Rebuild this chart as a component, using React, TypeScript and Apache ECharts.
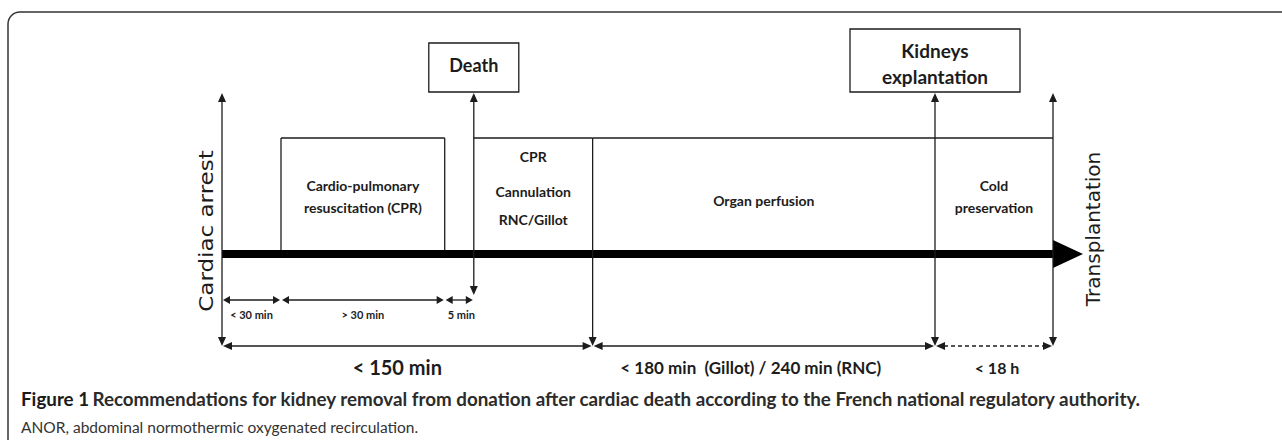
import React, { useEffect, useRef } from "react";
import * as echarts from "echarts";

// ---- data -------------------------------------------------------------
const milestoneNames = [
  "Cardiac arrest",
  "CPR start",
  "CPR end",
  "Death",
  "Cannulation end",
  "Kidneys explantation",
  "Transplantation",
];
// schematic position of each milestone on the (not to scale) timeline, 0..100
const milestoneT = [0, 7.1, 26.8, 30.3, 44.6, 85.8, 100];

const phaseLabels = [
  ["Cardio-pulmonary", "resuscitation (CPR)"],
  ["CPR", "Cannulation", "RNC/Gillot"],
  ["Organ perfusion"],
  ["Cold", "preservation"],
];
const phaseFrom = [1, 3, 4, 5];
const phaseTo = [2, 4, 5, 6];

const shortLabels = ["< 30 min", "> 30 min", "5 min"];
const shortFrom = [0, 1, 2];
const shortTo = [1, 2, 3];

const longLabels = ["< 150 min", "< 180 min  (Gillot) / 240 min (RNC)", "< 18 h"];
const longFrom = [0, 4, 5];
const longTo = [4, 5, 6];
const longDashed = [false, false, true];

const eventBoxLabels: Record<number, string[]> = {
  3: ["Death"],
  5: ["Kidneys", "explantation"],
};

const captionTitle = "Figure 1";
const captionText =
  "Recommendations for kidney removal from donation after cardiac death according to the French national regulatory authority.";
const captionNote = "ANOR, abdominal normothermic oxygenated recirculation.";

// ---- layout / style ---------------------------------------------------
const INK = "#1c1c1c";
const LW = 1.3;
const Y = {
  phaseTop: 138,
  barTop: 250,
  barBottom: 258,
  shortArrow: 300,
  shortLabel: 314,
  longArrow: 346,
  longLabel: 367,
};
const milestoneLine: Record<number, { top: number; bottom: number; up: boolean; down: boolean }> = {
  0: { top: 93, bottom: 346, up: true, down: true },
  3: { top: 93, bottom: 295, up: true, down: true },
  4: { top: 138, bottom: 346, up: false, down: true },
  5: { top: 93, bottom: 346, up: true, down: true },
  6: { top: 93, bottom: 346, up: true, down: true },
};
const rotatedLabel: Record<number, { dx: number; y: number; scale: number }> = {
  0: { dx: -16, y: 231, scale: 1.15 },
  6: { dx: 40, y: 229, scale: 1 },
};
const eventBox: Record<number, { w: number; top: number; bottom: number; lineY: number[]; size: number }> = {
  3: { w: 90, top: 43, bottom: 92, lineY: [65], size: 18 },
  5: { w: 170, top: 29, bottom: 92, lineY: [50, 76], size: 19 },
};
const phaseLineY = [[185, 207], [156, 191, 219], [200], [185, 207]];
const longFont = [20, 17, 16];
const longDx = [-10, -13, 3];
const FONT = "Lato, 'Noto Sans', sans-serif";

function head(tip: number[], dx: number, dy: number, len = 9, half = 4) {
  const bx = tip[0] - dx * len;
  const by = tip[1] - dy * len;
  const px = -dy * half;
  const py = dx * half;
  return {
    type: "polygon",
    shape: { points: [[tip[0], tip[1]], [bx + px, by + py], [bx - px, by - py]] },
    style: { fill: INK },
  };
}

function txt(text: string, x: number, y: number, size: number, weight: string, extra: any = {}) {
  const { fontFamily, ...rest } = extra;
  return {
    type: "text",
    x,
    y,
    ...rest,
    style: {
      text,
      x: 0,
      y: 0,
      fill: INK,
      fontSize: size,
      fontWeight: weight,
      fontFamily: fontFamily || FONT,
      align: "center",
      textAlign: "center",
      verticalAlign: "middle",
      textVerticalAlign: "middle",
    },
  };
}

function buildOption() {
  const milestoneSeries = {
    type: "custom",
    name: "milestones",
    coordinateSystem: "cartesian2d",
    silent: true,
    data: milestoneT.map((t, i) => [t, i]),
    renderItem: (_p: any, api: any) => {
      const t = api.value(0);
      const i = api.value(1);
      const children: any[] = [];
      const ln = milestoneLine[i];
      if (ln) {
        const a = api.coord([t, ln.top]);
        const b = api.coord([t, ln.bottom]);
        children.push({
          type: "line",
          shape: { x1: a[0], y1: a[1] + (ln.up ? 5 : 0), x2: b[0], y2: b[1] - (ln.down ? 5 : 0) },
          style: { stroke: INK, lineWidth: LW },
        });
        if (ln.up) children.push(head(a, 0, -1));
        if (ln.down) children.push(head(b, 0, 1));
      }
      const rl = rotatedLabel[i];
      if (rl) {
        const p = api.coord([t, rl.y]);
        children.push(
          txt(milestoneNames[i], p[0] + rl.dx, p[1], 20, "normal", {
            rotation: Math.PI / 2,
            scaleX: rl.scale,
            fontFamily: "'DejaVu Sans', sans-serif",
          })
        );
      }
      const eb = eventBox[i];
      if (eb) {
        const a = api.coord([t, eb.top]);
        const b = api.coord([t, eb.bottom]);
        children.push({
          type: "rect",
          shape: { x: a[0] - eb.w / 2, y: a[1], width: eb.w, height: b[1] - a[1] },
          style: { fill: "#fff", stroke: INK, lineWidth: LW },
        });
        eventBoxLabels[i].forEach((s, k) => {
          const q = api.coord([t, eb.lineY[k]]);
          children.push(txt(s, q[0], q[1], eb.size, "bold"));
        });
      }
      return { type: "group", children };
    },
  };

  const phaseSeries = {
    type: "custom",
    name: "phases",
    coordinateSystem: "cartesian2d",
    silent: true,
    data: phaseFrom.map((f, i) => [milestoneT[f], milestoneT[phaseTo[i]], i]),
    renderItem: (_p: any, api: any) => {
      const x1 = api.value(0);
      const x2 = api.value(1);
      const i = api.value(2);
      const a = api.coord([x1, Y.phaseTop]);
      const b = api.coord([x2, Y.phaseTop]);
      const a2 = api.coord([x1, Y.barTop]);
      const b2 = api.coord([x2, Y.barTop]);
      const children: any[] = [
        { type: "line", shape: { x1: a[0], y1: a[1], x2: b[0], y2: b[1] }, style: { stroke: INK, lineWidth: LW } },
      ];
      if (!milestoneLine[phaseFrom[i]])
        children.push({ type: "line", shape: { x1: a[0], y1: a[1], x2: a2[0], y2: a2[1] }, style: { stroke: INK, lineWidth: LW } });
      if (!milestoneLine[phaseTo[i]])
        children.push({ type: "line", shape: { x1: b[0], y1: b[1], x2: b2[0], y2: b2[1] }, style: { stroke: INK, lineWidth: LW } });
      phaseLabels[i].forEach((s, k) => {
        const q = api.coord([(x1 + x2) / 2, phaseLineY[i][k]]);
        children.push(txt(s, q[0], q[1], 14, "bold"));
      });
      return { type: "group", children };
    },
  };

  const barSeries = {
    type: "custom",
    name: "timeline",
    coordinateSystem: "cartesian2d",
    silent: true,
    data: [[milestoneT[0], milestoneT[6]]],
    renderItem: (_p: any, api: any) => {
      const a = api.coord([api.value(0), Y.barTop]);
      const b = api.coord([api.value(1), Y.barBottom]);
      const mid = (a[1] + b[1]) / 2;
      return {
        type: "group",
        children: [
          { type: "rect", shape: { x: a[0], y: a[1], width: b[0] - a[0], height: b[1] - a[1] }, style: { fill: "#000" } },
          {
            type: "polygon",
            shape: { points: [[b[0], mid - 14], [b[0] + 30, mid], [b[0], mid + 14]] },
            style: { fill: "#000" },
          },
        ],
      };
    },
  };

  const durationSeries = (
    name: string,
    labels: string[],
    from: number[],
    to: number[],
    yLine: number,
    yLabel: number,
    fonts: number[],
    dxs: number[],
    dashed: boolean[],
    hl: number,
    hh: number
  ) => ({
    type: "custom",
    name,
    coordinateSystem: "cartesian2d",
    silent: true,
    data: from.map((f, i) => [milestoneT[f], milestoneT[to[i]], i]),
    renderItem: (_p: any, api: any) => {
      const i = api.value(2);
      const a = api.coord([api.value(0), yLine]);
      const b = api.coord([api.value(1), yLine]);
      const l = api.coord([(api.value(0) + api.value(1)) / 2, yLabel]);
      const L = [a[0] + 1, a[1]];
      const R = [b[0] - 1, b[1]];
      return {
        type: "group",
        children: [
          {
            type: "line",
            shape: { x1: L[0] + hl - 1, y1: L[1], x2: R[0] - hl + 1, y2: R[1] },
            style: { stroke: INK, lineWidth: LW, lineDash: dashed[i] ? [4, 3] : null },
          },
          head(L, -1, 0, hl, hh),
          head(R, 1, 0, hl, hh),
          txt(labels[i], l[0] + dxs[i], l[1], fonts[i], "bold"),
        ],
      };
    },
  });

  return {
    animation: false,
    grid: { left: 222, right: 229, top: 0, bottom: 0, containLabel: false },
    xAxis: { type: "value", min: 0, max: 100, show: false },
    yAxis: { type: "value", min: 0, max: 440, inverse: true, show: false },
    graphic: [
      {
        type: "rect",
        shape: { x: 8, y: 12, width: 1320, height: 480, r: 12 },
        style: { fill: "none", stroke: "#333", lineWidth: 1.5 },
        silent: true,
      },
      {
        type: "text",
        left: 21,
        top: 389,
        silent: true,
        style: {
          text: `{a|${captionTitle}} {b|${captionText}}`,
          rich: {
            a: { fontFamily: FONT, fontWeight: "bold", fontSize: 18.8, fill: "#1a1a1a" },
            b: { fontFamily: FONT, fontWeight: "bold", fontSize: 18.8, fill: "#2b2b2b" },
          },
        },
      },
      {
        type: "text",
        left: 21,
        top: 419,
        silent: true,
        style: { text: captionNote, fontFamily: FONT, fontSize: 15.5, fill: "#333" },
      },
    ],
    series: [
      barSeries,
      phaseSeries,
      milestoneSeries,
      durationSeries("short durations", shortLabels, shortFrom, shortTo, Y.shortArrow, Y.shortLabel, [11, 11, 11], [0, 0, 2], [false, false, false], 7, 4),
      durationSeries("long durations", longLabels, longFrom, longTo, Y.longArrow, Y.longLabel, longFont, longDx, longDashed, 9, 4),
    ],
  };
}

export default function App() {
  const ref = useRef<HTMLDivElement>(null);
  useEffect(() => {
    document.body.style.margin = "0";
    if (!ref.current) return;
    const chart = echarts.init(ref.current, undefined, { renderer: "svg" });
    chart.setOption(buildOption() as any);
    return () => chart.dispose();
  }, []);
  return <div ref={ref} style={{ width: 1282, height: 440, background: "#fff" }} />;
}
